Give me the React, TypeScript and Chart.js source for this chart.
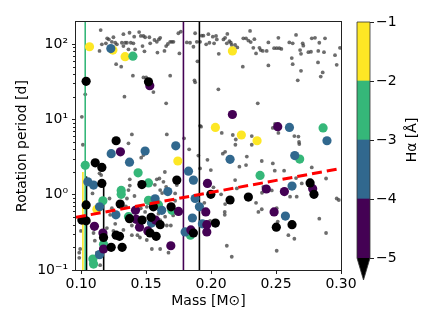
import React, { useEffect, useRef } from 'react';
import { Chart, registerables } from 'chart.js';

Chart.register(...registerables);

const FONT = "'DejaVu Sans', sans-serif";

// ---------- data ----------
const grayMass = [
  0.115, 0.120, 0.1213, 0.1236, 0.119, 0.1141, 0.1159, 0.1248, 0.1262, 0.1275,
  0.1313, 0.1325, 0.1338, 0.1352, 0.1372, 0.1382, 0.1402, 0.1408, 0.1446, 0.1459,
  0.1479, 0.1492, 0.1525, 0.1564, 0.1582, 0.1598, 0.1608, 0.1531, 0.1472, 0.1415,
  0.1364, 0.1325, 0.1487, 0.1587, 0.1641, 0.1685, 0.1654, 0.1667, 0.1698, 0.171,
  0.1748, 0.1767, 0.1813, 0.1838, 0.1877, 0.189, 0.1915, 0.1928, 0.1864, 0.1756,
  0.1895, 0.1269, 0.1308, 0.1398, 0.1685, 0.1479, 0.15, 0.1556, 0.1333, 0.1031,
  0.1005, 0.1654, 0.139, 0.1659, 0.1915, 0.1872, 0.1877, 0.1941, 0.1979, 0.2013,
  0.2038, 0.2044, 0.2095, 0.2108, 0.2125, 0.2121, 0.2141, 0.2152, 0.2159, 0.2185,
  0.2202, 0.1962, 0.1987, 0.2023, 0.2059, 0.2248, 0.2269, 0.2287, 0.23, 0.2305,
  0.2333, 0.2325, 0.2346, 0.2372, 0.2382, 0.2398, 0.2428, 0.2441, 0.2485, 0.2505,
  0.2518, 0.2525, 0.2541, 0.2602, 0.2628, 0.2654, 0.2705, 0.271, 0.2685, 0.2692,
  0.2749, 0.2769, 0.2775, 0.28, 0.2833, 0.2877, 0.2825, 0.2869, 0.2954, 0.2992,
  0.2621, 0.2628, 0.2823, 0.2967, 0.2244, 0.2441, 0.2692, 0.2859, 0.2844, 0.2667,
  0.2056, 0.2359, 0.1923, 0.2082, 0.2167, 0.219, 0.2313, 0.2475, 0.2492, 0.2518,
  0.2641, 0.2672, 0.2677, 0.2187, 0.2313, 0.2679, 0.2108, 0.209, 0.2275, 0.1972,
  0.239, 0.2475, 0.2698, 0.2218, 0.2269, 0.1998, 0.2775, 0.2885, 0.249, 0.2185,
  0.2402, 0.2392, 0.2198, 0.2018, 0.2077, 0.1948, 0.2608, 0.2659, 0.2967, 0.2983,
  0.2108, 0.2346, 0.2105, 0.2105, 0.239, 0.2364, 0.2505, 0.2833, 0.2513, 0.1992,
  0.2595, 0.2641, 0.2885, 0.2121, 0.2159, 0.2505, 0.2562, 0.2654, 0.2467, 0.2505,
  0.1915, 0.1013, 0.1364, 0.1479, 0.1462, 0.1141, 0.1154, 0.1087, 0.1218, 0.1364,
  0.1352, 0.141, 0.1236, 0.1223, 0.1262, 0.1198, 0.1095, 0.1325, 0.139, 0.139,
  0.1433, 0.1525, 0.1492, 0.1505, 0.1582, 0.1602, 0.1633, 0.1608, 0.1654, 0.1723,
  0.1723, 0.1736, 0.1595, 0.1608, 0.1646, 0.1659, 0.1505, 0.1544, 0.1608, 0.1672,
  0.0985, 0.1121, 0.1146, 0.0985, 0.1374, 0.1374, 0.0998, 0.0992, 0.1248, 0.1105,
  0.1344, 0.1459, 0.1708, 0.1452, 0.169, 0.1831, 0.1644, 0.1567, 0.1902, 0.1623,
  0.1792,
];
const grayPeriod = [
  153, 119, 115, 107, 102, 81, 99, 123, 104, 99,
  104, 135, 104, 104, 141, 104, 102, 125, 144, 128,
  128, 123, 123, 113, 107, 115, 121, 102, 94, 85,
  85, 94, 80, 77, 81, 107, 94, 100, 107, 107,
  139, 146, 105, 104, 139, 107, 107, 129, 92, 75,
  59, 54, 50, 38, 38, 36, 36, 23, 20, 21.5,
  10.8, 16.3, 6.3, 6.3, 8.2, 33, 31, 129, 135, 125,
  128, 115, 115, 121, 136, 102, 109, 104, 97, 97,
  90, 99, 104, 102, 74, 119, 119, 111, 149, 106,
  116, 89, 75, 89, 83, 81, 81, 105, 88, 88,
  121, 88, 86, 105, 102, 132, 102, 95, 83, 74,
  78, 79, 119, 121, 104, 119, 81, 78, 71, 89,
  65, 54, 57, 53, 50, 52, 44, 42, 37, 33,
  25, 16.3, 8.0, 6.6, 6.2, 5.4, 6.0, 7.7, 8.7, 6.6,
  6.0, 5.9, 5.0, 4.6, 4.6, 4.7, 3.7, 3.5, 3.2, 2.9,
  2.8, 2.6, 1.41, 2.35, 2.47, 2.12, 2.3, 1.64, 2.08, 1.56,
  1.27, 1.06, 1.21, 1.25, 1.01, 0.78, 0.94, 0.94, 0.89, 0.85,
  0.75, 0.78, 0.59, 0.54, 0.64, 0.59, 0.66, 0.48, 0.44, 0.45,
  0.29, 0.26, 0.31, 0.21, 0.15, 0.18, 2.08, 1.66, 1.14, 7.5,
  2.23, 4.6, 4.8, 3.36, 3.1, 1.92, 1.82, 1.04, 0.89, 1.15,
  0.89, 0.96, 0.66, 0.54, 0.41, 0.36, 0.31, 0.34, 0.39, 0.29,
  0.29, 0.37, 0.59, 0.69, 1.6, 1.64, 1.48, 1.15, 1.27, 1.04,
  0.83, 1.34, 0.56, 0.46, 0.51, 0.39, 0.25, 0.19, 0.19, 0.17,
  0.17, 0.17, 0.116, 0.145, 1.6, 1.32, 0.33, 0.19, 0.33, 0.245,
  0.70, 0.66, 0.53, 0.27, 0.39, 4.0, 2.0, 1.35, 3.3, 1.05,
  5.6,
];

// H-alpha groups (value in Å)
const yellowHa = -1.5;
const yellowMass = [0.1064, 0.1244, 0.1338, 0.2164, 0.2033, 0.2233, 0.2354, 0.1744, 0.1121];
const yellowPeriod = [92, 83, 68, 81, 7.8, 6.2, 5.2, 2.8, 0.64];

const greenHa = -2.5;
const greenMass = [0.1398, 0.2862, 0.1031, 0.1438, 0.1308, 0.1308, 0.1518, 0.1167, 0.1518, 0.1595, 0.1698, 0.1364, 0.1172, 0.109, 0.1095, 0.2377, 0.2682, 0.1841];
const greenPeriod = [69, 7.7, 2.45, 1.95, 1.14, 1.01, 1.43, 0.83, 0.84, 0.73, 0.62, 0.51, 0.22, 0.14, 0.12, 1.8, 2.97, 0.29];

const blueHa = -3.5;
const blueMass = [0.1228, 0.2603, 0.2892, 0.1231, 0.1492, 0.1728, 0.1372, 0.1826, 0.1864, 0.1051, 0.1095, 0.1667, 0.1141, 0.1569, 0.162, 0.1877, 0.191, 0.1267, 0.1856, 0.1933, 0.1141, 0.18, 0.2146, 0.2644, 0.2623, 0.2572, 0.1541];
const bluePeriod = [87, 7.8, 5.2, 3.5, 3.8, 4.45, 2.7, 2.05, 1.56, 1.48, 1.34, 1.1, 0.69, 0.88, 0.62, 0.89, 0.69, 0.54, 0.49, 0.41, 0.16, 0.32, 2.95, 3.3, 1.3, 0.52, 0.42];

const purpleHa = -4.5;
const purpleMass = [0.1528, 0.2164, 0.2513, 0.1302, 0.1972, 0.1418, 0.1749, 0.1959, 0.1423, 0.1449, 0.1572, 0.1102, 0.1513, 0.1167, 0.1172, 0.169, 0.1844, 0.1967, 0.2782, 0.2425, 0.2564, 0.2485, 0.1967];
const purplePeriod = [28, 11.6, 8.0, 3.7, 1.41, 0.62, 0.6, 0.59, 0.47, 0.37, 0.46, 0.38, 0.33, 0.31, 0.19, 0.21, 0.34, 0.32, 1.2, 1.19, 1.1, 0.59, 0.40];

const blackHa = -5.5;
const blackMass = [0.1038, 0.1518, 0.1269, 0.1108, 0.1159, 0.1736, 0.1159, 0.1467, 0.13, 0.1038, 0.1556, 0.1692, 0.1372, 0.1005, 0.1038, 0.1538, 0.1608, 0.153, 0.1577, 0.1269, 0.1295, 0.1172, 0.1315, 0.1231, 0.1864, 0.2762, 0.2792, 0.1998, 0.2146, 0.2287, 0.2033, 0.2502, 0.2623, 0.1469];
const blackPeriod = [32, 31.5, 5.2, 2.65, 2.3, 1.56, 1.41, 1.36, 0.75, 0.73, 0.69, 0.69, 0.48, 0.46, 0.45, 0.5, 0.4, 0.31, 0.28, 0.29, 0.28, 0.27, 0.2, 0.2, 0.31, 1.43, 1.01, 1.01, 0.85, 0.93, 0.42, 0.37, 0.4, 0.46];

// vertical marker lines
const vlineMass = [0.1013, 0.1031, 0.1041, 0.1173, 0.1787, 0.191];
const vlineTop = [2.0, 196, 1.75, 1.5, 196, 196];
const vlineHa = [-1.5, -2.5, -5.5, -5.5, -4.5, -5.5];

// fitted relation (dashed red)
const fitMass = [0.096, 0.30];
const fitPeriod = [0.5, 2.23];

// axes
const xMin = 0.096, xMax = 0.30;
const yMin = 0.1, yMax = 196;
const xTicks = [0.10, 0.15, 0.20, 0.25, 0.30];
const yTicks = [0.1, 1, 10, 100];
const yTickLabels = ['10⁻¹', '10⁰', '10¹', '10²'];
const yMinorTicks = [0.2, 0.3, 0.4, 0.5, 0.6, 0.7, 0.8, 0.9, 2, 3, 4, 5, 6, 7, 8, 9, 20, 30, 40, 50, 60, 70, 80, 90];

// colour bar
const colorbarEdges = [-5, -4, -3, -2, -1];
const colorbarColors = ['#440154', '#31688e', '#35b779', '#fde725'];
const belowColor = '#000000';

function haColor(h: number): string {
  if (h < colorbarEdges[0]) return belowColor;
  for (let i = 0; i < colorbarColors.length; i++) {
    if (h <= colorbarEdges[i + 1]) return colorbarColors[i];
  }
  return colorbarColors[colorbarColors.length - 1];
}

const toXY = (ms: number[], ps: number[]) => ms.map((m, i) => ({ x: m, y: ps[i] }));

export default function App() {
  const mainRef = useRef<HTMLCanvasElement | null>(null);
  const cbRef = useRef<HTMLCanvasElement | null>(null);

  useEffect(() => {
    Chart.defaults.font.family = FONT;
    const groups = [
      { ha: blackHa, m: blackMass, p: blackPeriod, order: 1 },
      { ha: purpleHa, m: purpleMass, p: purplePeriod, order: 2 },
      { ha: blueHa, m: blueMass, p: bluePeriod, order: 3 },
      { ha: greenHa, m: greenMass, p: greenPeriod, order: 4 },
      { ha: yellowHa, m: yellowMass, p: yellowPeriod, order: 5 },
    ];
    const datasets: any[] = [];
    datasets.push({
      label: 'fit',
      data: toXY(fitMass, fitPeriod),
      showLine: true,
      borderColor: '#ff0000',
      borderWidth: 3,
      borderDash: [10, 5],
      pointRadius: 0,
      clip: 0,
      order: 0,
    });
    groups.forEach((g) => {
      datasets.push({
        data: toXY(g.m, g.p),
        backgroundColor: haColor(g.ha),
        borderWidth: 0,
        pointRadius: 4.6,
        order: g.order,
      });
    });
    vlineMass.forEach((m, i) => {
      datasets.push({
        data: [{ x: m, y: yMin }, { x: m, y: vlineTop[i] }],
        showLine: true,
        borderColor: haColor(vlineHa[i]),
        borderWidth: 1.6,
        pointRadius: 0,
        clip: 0,
        order: 6,
      });
    });
    datasets.push({
      data: toXY(grayMass, grayPeriod),
      backgroundColor: 'rgba(60,60,60,0.75)',
      borderWidth: 0,
      pointRadius: 1.9,
      order: 7,
    });

    const framePlugin = {
      id: 'frame',
      afterDraw(chart: any) {
        const { ctx, chartArea: a, scales } = chart;
        ctx.save();
        ctx.strokeStyle = '#222';
        ctx.lineWidth = 1;
        ctx.strokeRect(a.left - 0.5, a.top - 0.5, a.right - a.left + 1, a.bottom - a.top + 1);
        ctx.beginPath();
        yMinorTicks.forEach((v) => {
          const y = Math.round(scales.y.getPixelForValue(v)) + 0.5;
          ctx.moveTo(a.left - 0.5, y);
          ctx.lineTo(a.left - 3, y);
        });
        ctx.stroke();
        ctx.restore();
      },
    };

    const main = new Chart(mainRef.current as HTMLCanvasElement, {
      type: 'scatter',
      data: { datasets },
      options: {
        animation: false,
        responsive: false,
        events: [],
        layout: { padding: { top: 22, right: 95, left: 0, bottom: 0 } },
        plugins: { legend: { display: false }, tooltip: { enabled: false } },
        scales: {
          x: {
            type: 'linear',
            min: xMin,
            max: xMax,
            afterBuildTicks: (s: any) => { s.ticks = xTicks.map((v) => ({ value: v })); },
            afterFit: (s: any) => { s.height = 57; },
            ticks: {
              callback: (v: any) => Number(v).toFixed(2),
              font: { family: FONT, size: 14 },
              color: '#000',
              padding: 2,
              maxRotation: 0,
              autoSkip: false,
            },
            grid: { display: true, drawOnChartArea: false, drawTicks: true, tickLength: 4, tickColor: '#222', tickWidth: 1 },
            border: { display: false },
            title: { display: true, text: 'Mass [M⊙]', font: { family: FONT, size: 14 }, color: '#000', padding: { top: 0, bottom: 17 } },
          },
          y: {
            type: 'logarithmic',
            min: yMin,
            max: yMax,
            afterBuildTicks: (s: any) => { s.ticks = yTicks.map((v) => ({ value: v, major: true })); },
            afterFit: (s: any) => { s.width = 76; },
            ticks: {
              callback: (_v: any, i: number) => yTickLabels[i],
              font: { family: FONT, size: 14 },
              color: '#000',
              padding: 4,
              autoSkip: false,
            },
            grid: { display: true, drawOnChartArea: false, drawTicks: true, tickLength: 4, tickColor: '#222', tickWidth: 1 },
            border: { display: false },
            title: { display: true, text: 'Rotation period [d]', font: { family: FONT, size: 14 }, color: '#000', padding: { top: 14, bottom: 0 } },
          },
        },
      },
      plugins: [framePlugin],
    } as any);

    const cbPlugin = {
      id: 'cbdecor',
      afterDraw(chart: any) {
        const { ctx, chartArea: a } = chart;
        const tri = 22;
        const cx = (a.left + a.right) / 2;
        ctx.save();
        ctx.fillStyle = belowColor;
        ctx.beginPath();
        ctx.moveTo(a.left, a.bottom);
        ctx.lineTo(a.right, a.bottom);
        ctx.lineTo(cx, a.bottom + tri);
        ctx.closePath();
        ctx.fill();
        ctx.strokeStyle = '#333';
        ctx.lineWidth = 0.8;
        ctx.beginPath();
        ctx.moveTo(a.left, a.top);
        ctx.lineTo(a.right, a.top);
        ctx.lineTo(a.right, a.bottom);
        ctx.lineTo(cx, a.bottom + tri);
        ctx.lineTo(a.left, a.bottom);
        ctx.closePath();
        ctx.stroke();
        ctx.translate(72, (a.top + a.bottom) / 2);
        ctx.rotate(-Math.PI / 2);
        ctx.fillStyle = '#000';
        ctx.font = `14px ${FONT}`;
        ctx.textAlign = 'center';
        ctx.textBaseline = 'middle';
        ctx.fillText('Hα [Å]', 0, 0);
        ctx.restore();
      },
    };

    const cb = new Chart(cbRef.current as HTMLCanvasElement, {
      type: 'bar',
      data: {
        labels: [''],
        datasets: colorbarColors.map((c, i) => ({
          data: [[colorbarEdges[i], colorbarEdges[i + 1]]],
          backgroundColor: c,
          borderWidth: 0,
          grouped: false,
          barPercentage: 1,
          categoryPercentage: 1,
        })),
      },
      options: {
        animation: false,
        responsive: false,
        events: [],
        layout: { padding: { left: 17, top: 22, bottom: 69, right: 0 } },
        plugins: { legend: { display: false }, tooltip: { enabled: false } },
        scales: {
          x: { display: false },
          y: {
            position: 'right',
            min: colorbarEdges[0],
            max: colorbarEdges[colorbarEdges.length - 1],
            afterBuildTicks: (s: any) => { s.ticks = colorbarEdges.map((v) => ({ value: v })); },
            afterFit: (s: any) => { s.width = 66; },
            ticks: {
              callback: (v: any) => (Number(v) < 0 ? '−' + Math.abs(Number(v)) : String(v)),
              font: { family: FONT, size: 14 },
              color: '#000',
              padding: 2,
            },
            grid: { display: true, drawOnChartArea: false, drawTicks: true, tickLength: 4, tickColor: '#222', tickWidth: 1 },
            border: { display: false },
          },
        },
      },
      plugins: [cbPlugin],
    } as any);

    return () => {
      main.destroy();
      cb.destroy();
    };
  }, []);

  return (
    <div style={{ position: 'fixed', left: 0, top: 0, width: 436, height: 327, background: '#fff' }}>
      <canvas ref={mainRef} width={436} height={327} style={{ position: 'absolute', left: 0, top: 0, width: 436, height: 327 }} />
      <canvas ref={cbRef} width={96} height={327} style={{ position: 'absolute', left: 340, top: 0, width: 96, height: 327 }} />
    </div>
  );
}
